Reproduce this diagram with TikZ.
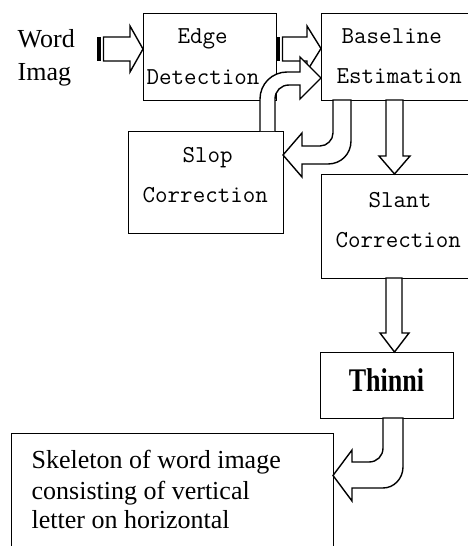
\documentclass[tikz,border=0pt]{standalone}
\usepackage{fontspec}
\setmainfont{Liberation Serif}
\begin{document}
\begin{tikzpicture}[x=1pt,y=-1pt,line width=1.4pt,
  box/.style={draw,line width=1.4pt,rectangle,anchor=north west,inner sep=0pt},
  mono/.style={font=\fontsize{24.3}{27}\ttfamily,anchor=base west,inner sep=0pt},
  serif/.style={font=\fontsize{26}{30}\selectfont,anchor=base west,inner sep=0pt},
  barrow/.style={draw,fill=white,line width=1.4pt,line join=miter},
  stripe/.style={fill=black,draw,line width=0.6pt}]
\useasboundingbox (0,0) rectangle (467,546);

% boxes
\node[box,minimum width=133pt,minimum height=87pt] (edge) at (143,13) {};
\node[box,minimum width=150pt,minimum height=87pt] (base) at (321,13) {};
\node[box,minimum width=155pt,minimum height=102pt] (slop) at (128,131) {};
\node[box,minimum width=150pt,minimum height=104pt] (slant) at (321,174) {};
\node[box,minimum width=133pt,minimum height=66pt] (thin) at (320,352) {};
\node[box,minimum width=322pt,minimum height=130pt] (skel) at (11,433) {};

% texts
\node[serif] (w1) at (17,47) {Word};
\node[serif] (w2) at (17,80) {Imag};
\node[mono] (e1) at (177,43) {Edge};
\node[mono] (e2) at (146,84) {Detection};
\node[mono] (b1) at (341,43) {Baseline};
\node[mono] (b2) at (336,83) {Estimation};
\node[mono] (s1) at (182,162) {Slop};
\node[mono] (s2) at (142,202) {Correction};
\node[mono] (t1) at (368,207) {Slant};
\node[mono] (t2) at (335,247) {Correction};
\node[font=\fontsize{33}{36}\selectfont\bfseries,anchor=base,inner sep=0pt] (th) at (386.5,391) {\scalebox{0.79}[1]{Thinni}};
\node[serif] (k1) at (31,468) {Skeleton of word image};
\node[serif] (k2) at (31,499) {consisting of vertical};
\node[serif] (k3) at (31,528) {letter on horizontal};

% word -> edge (striped arrow)
\path[stripe] (97.5,37.5) rectangle (100.5,60.5);
\draw[barrow] (103.5,37) -- (130,37) -- (130,26) -- (143,49) -- (130,72) -- (130,61) -- (103.5,61) -- cycle;

% edge -> baseline (striped arrow)
\path[stripe] (277.5,37.5) rectangle (279.5,60.5);
\draw[barrow] (282.5,37) -- (307,37) -- (307,26) -- (321,48.5) -- (307,71) -- (307,61) -- (282.5,61) -- cycle;

% slop -> baseline (curved)
\def\arrC{(260,131) -- (260,99) .. controls (260,84) and (272,72) .. (287,72) -- (300,72) -- (300,57) -- (321,78) -- (300,99) -- (300,85) -- (289,85) .. controls (281,85) and (275,91) .. (275,99) -- (275,131)}
\fill[white] \arrC -- cycle;
\draw[line join=miter] \arrC;

% baseline -> slop (curved)
\draw[barrow] (333,100) -- (333,133) .. controls (333,140) and (327,146) .. (320,146) -- (302,146) -- (302,133) -- (283,155) -- (302,177) -- (302,164) -- (328,164) .. controls (341,164) and (351,154) .. (351,141) -- (351,100) -- cycle;

% baseline -> slant
\draw[barrow] (386,100) -- (386,156) -- (379,156) -- (394.5,174) -- (410,156) -- (403,156) -- (403,100) -- cycle;

% slant -> thinning
\draw[barrow] (386,278) -- (386,333) -- (380,333) -- (394.5,352) -- (409,333) -- (402,333) -- (402,278) -- cycle;

% thinning -> skeleton (curved)
\draw[barrow] (383,418) -- (383,448) .. controls (383,456) and (377,462) .. (369,462) -- (352,462) -- (352,450) -- (333,475.5) -- (352,501) -- (352,488) -- (383,488) .. controls (394,488) and (403,478.5) .. (403,467) -- (403,418) -- cycle;
\end{tikzpicture}
\end{document}
